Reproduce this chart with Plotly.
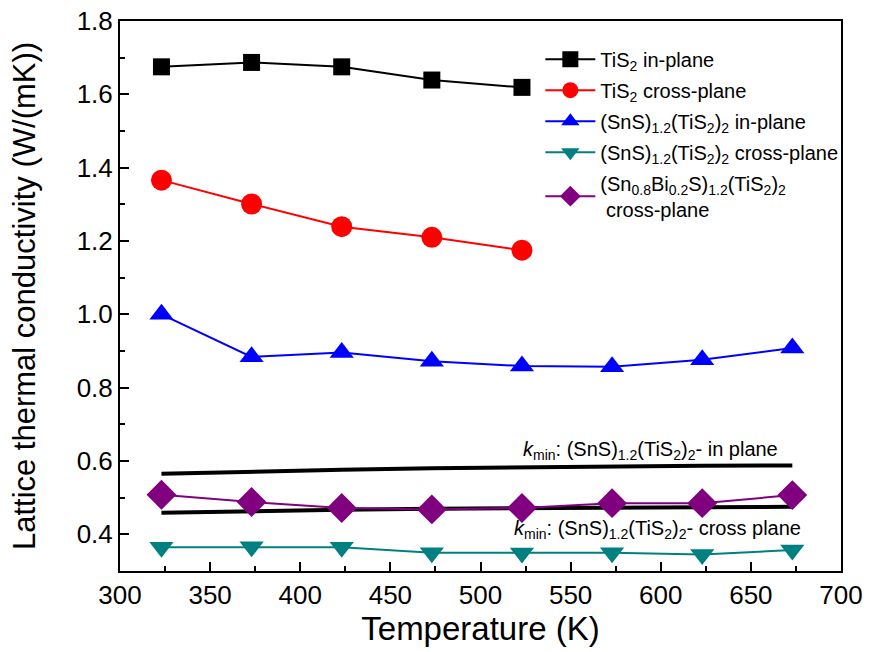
import plotly.graph_objects as go

T5 = [323, 373, 423, 473, 523]
T8 = [323, 373, 423, 473, 523, 573, 623, 673]

tis2_in = [1.675, 1.687, 1.675, 1.639, 1.619]
tis2_cross = [1.366, 1.301, 1.239, 1.210, 1.175]
sns_in = [1.000, 0.884, 0.896, 0.872, 0.859, 0.857, 0.876, 0.908]
sns_cross = [0.365, 0.366, 0.365, 0.350, 0.349, 0.350, 0.345, 0.357]
snbi_cross = [0.508, 0.488, 0.472, 0.468, 0.472, 0.485, 0.485, 0.507]
kmin_in = [0.565, 0.571, 0.576, 0.580, 0.583, 0.585, 0.587, 0.588]
kmin_cross = [0.459, 0.464, 0.467, 0.470, 0.472, 0.473, 0.474, 0.475]

y_ticks = [0.4, 0.6, 0.8, 1.0, 1.2, 1.4, 1.6, 1.8]
x_ticks = [300, 350, 400, 450, 500, 550, 600, 650, 700]

names = [
    "TiS<sub>2</sub> in-plane",
    "TiS<sub>2</sub> cross-plane",
    "(SnS)<sub>1.2</sub>(TiS<sub>2</sub>)<sub>2</sub> in-plane",
    "(SnS)<sub>1.2</sub>(TiS<sub>2</sub>)<sub>2</sub> cross-plane",
    "(Sn<sub>0.8</sub>Bi<sub>0.2</sub>S)<sub>1.2</sub>(TiS<sub>2</sub>)<sub>2</sub><br> cross-plane",
]
kmin_labels = [
    "<i>k</i><sub>min</sub>: (SnS)<sub>1.2</sub>(TiS<sub>2</sub>)<sub>2</sub>- in plane",
    "<i>k</i><sub>min</sub>: (SnS)<sub>1.2</sub>(TiS<sub>2</sub>)<sub>2</sub>- cross plane",
]
kmin_label_x = [666, 679]
kmin_label_y = [0.628, 0.414]

fig = go.Figure()
fig.add_trace(go.Scatter(x=T8, y=kmin_in, mode="lines", line=dict(color="black", width=4), showlegend=False))
fig.add_trace(go.Scatter(x=T8, y=kmin_cross, mode="lines", line=dict(color="black", width=4), showlegend=False))

series = [
    (T5, tis2_in, "black", "square", 17),
    (T5, tis2_cross, "#FF0000", "circle", 21),
    (T8, sns_in, "#0000FF", "triangle-up", 21),
    (T8, sns_cross, "#008080", "triangle-down", 21),
    (T8, snbi_cross, "#800080", "diamond", 23),
]
for i, ((x, y, c, s, sz), n) in enumerate(zip(series, names)):
    fig.add_trace(go.Scatter(x=x, y=y, mode="lines+markers", name=n, legendgroup=f"g{i}",
                             line=dict(color=c, width=2),
                             marker=dict(color=c, symbol=s, size=sz, line=dict(width=0))))

for lx, ly, lt in zip(kmin_label_x, kmin_label_y, kmin_labels):
    fig.add_annotation(x=lx, y=ly, xref="x", yref="y", text=lt, showarrow=False,
                       xanchor="right", yanchor="middle", font=dict(size=20, color="black"))

axis_common = dict(showline=True, linecolor="black", linewidth=2, mirror=True,
                   ticks="inside", ticklen=9, tickwidth=1.5, tickcolor="black",
                   showgrid=False, zeroline=False, automargin=False,
                   ticklabeloverflow="allow",
                   tickfont=dict(size=26, color="black"))

fig.update_xaxes(range=[300, 700], tickmode="array", tickvals=x_ticks,
                 ticktext=[str(v) for v in x_ticks],
                 title=dict(text="Temperature (K)", font=dict(size=33, color="black"), standoff=0),
                 minor=dict(ticks="inside", ticklen=5, dtick=25, tick0=300, tickcolor="black", tickwidth=1.5),
                 **axis_common)
fig.update_yaxes(range=[0.3, 1.8], tickmode="array", tickvals=y_ticks,
                 ticktext=[f"{v:.1f}" for v in y_ticks],
                 title=dict(text="Lattice thermal conductivity (W/(mK))", font=dict(size=31, color="black"), standoff=32),
                 minor=dict(ticks="inside", ticklen=5, dtick=0.1, tick0=0.3, tickcolor="black", tickwidth=1.5),
                 **axis_common)

fig.update_layout(
    width=869, height=652,
    margin=dict(l=120, r=28, t=21, b=81),
    paper_bgcolor="white", plot_bgcolor="white",
    font=dict(family="Liberation Sans, Arial, sans-serif", color="black"),
    legend=dict(x=0.583, y=0.966, xanchor="left", yanchor="top", bgcolor="rgba(0,0,0,0)",
                font=dict(size=20, color="black"), itemwidth=50, tracegroupgap=2),
)

fig.write_html("out.html", config={"displayModeBar": False},
               post_script="document.body.style.margin='0';document.body.style.overflow='hidden';")
